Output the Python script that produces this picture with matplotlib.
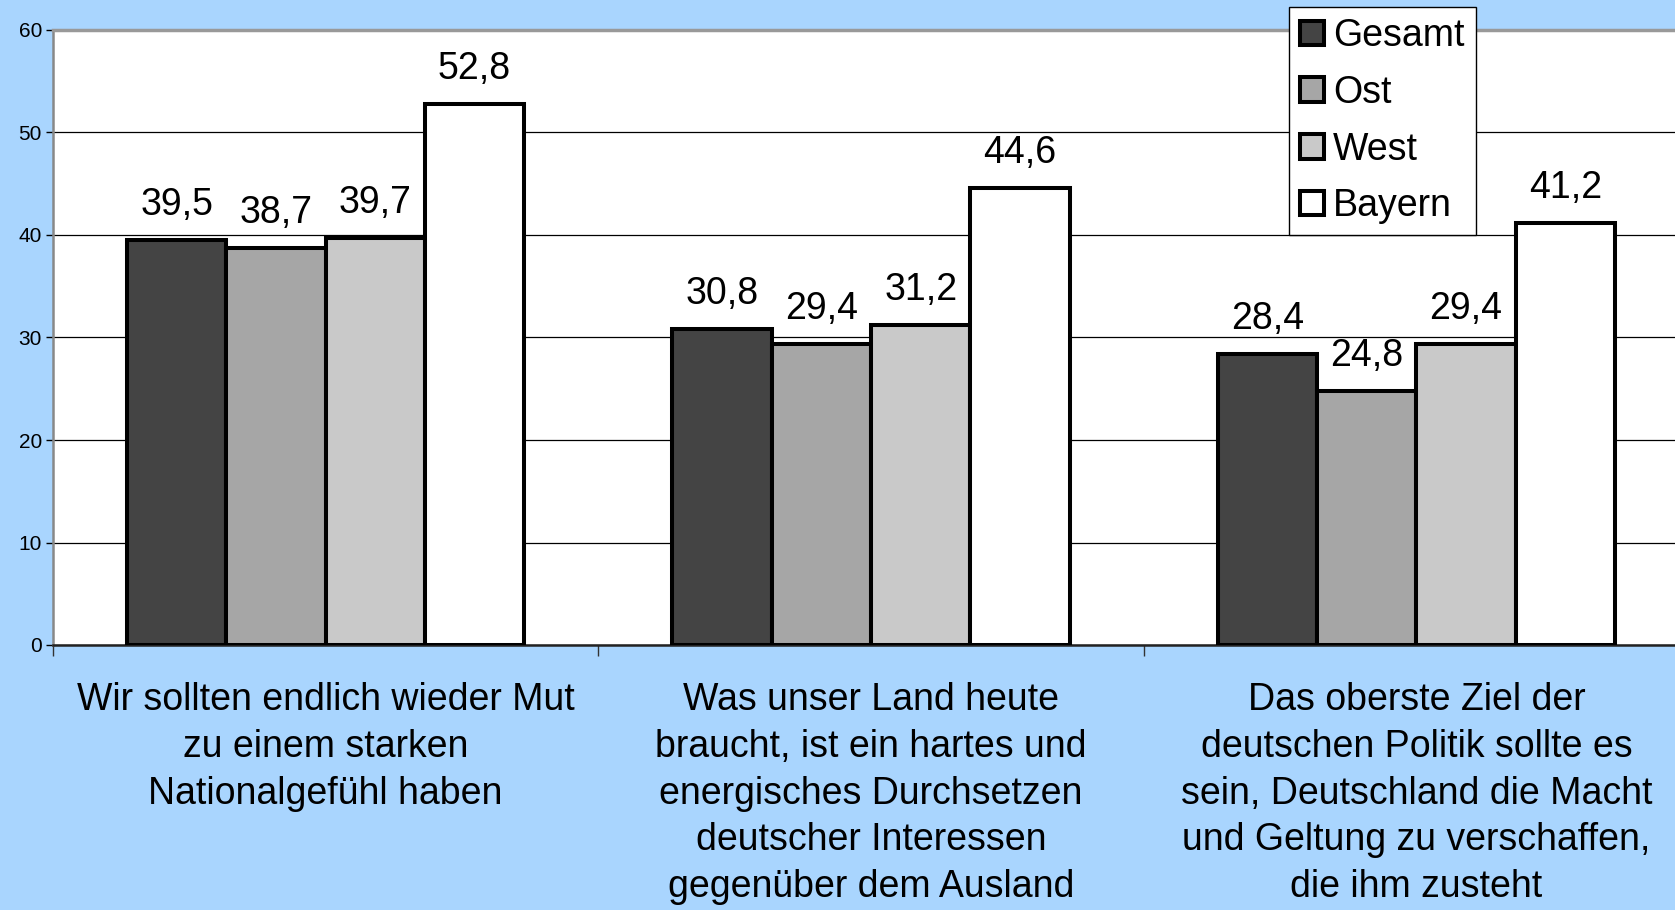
import matplotlib.pyplot as plt
import numpy as np

# Daten
kategorien = ["Wir sollten endlich wieder Mut\nzu einem starken\nNationalgefühl haben",
              "Was unser Land heute\nbraucht, ist ein hartes und\nenergisches Durchsetzen\ndeutscher Interessen\ngegenüber dem Ausland",
              "Das oberste Ziel der\ndeutschen Politik sollte es\nsein, Deutschland die Macht\nund Geltung zu verschaffen,\ndie ihm zusteht"]
gesamt = [39.5, 30.8, 28.4]
ost = [38.7, 29.4, 24.8]
west = [39.7, 31.2, 29.4]
bayern = [52.8, 44.6, 41.2]
serien = ["Gesamt", "Ost", "West", "Bayern"]
farben = ["#444444", "#a6a6a6", "#c9c9c9", "#ffffff"]

plt.rcParams['font.family'] = ['Liberation Sans', 'DejaVu Sans']

bg = "#a9d5fe"
fig = plt.figure(figsize=(16.75, 9.1), dpi=100, facecolor=bg)
W, H = 1675, 910
ax = fig.add_axes([53 / W, (H - 645) / H, 1636 / W, (645 - 30) / H])
ax.set_facecolor("white")

x = np.arange(len(kategorien))
breite = 0.182
werte = [gesamt, ost, west, bayern]
for i, (name, vals, col) in enumerate(zip(serien, werte, farben)):
    pos = x + (i - 1.5) * breite
    ax.bar(pos, vals, breite, color=col, edgecolor="black", linewidth=2.9, label=name, zorder=3)
    for px, v in zip(pos, vals):
        ax.annotate(("%.1f" % v).replace(".", ","), (px, v), xytext=(0, 18),
                    textcoords="offset points", ha="center", va="baseline", fontsize=27)

ax.set_xlim(-0.5, 2.5)
ax.set_ylim(0, 60)
ax.set_yticks(range(0, 61, 10))
ax.tick_params(axis="y", labelsize=15, length=5, width=1, pad=3, color="black")
ax.yaxis.grid(True, color="black", linewidth=0.9, zorder=0)
ax.set_axisbelow(True)

# Trennstriche zwischen den Kategorien und Beschriftungen
ax.set_xticks([-0.5, 0.5, 1.5, 2.5])
ax.set_xticklabels([])
ax.tick_params(axis="x", which="major", length=8, width=1, color="#333333")
ax.set_xticks(x, minor=True)
ax.set_xticklabels(kategorien, minor=True, fontsize=27, linespacing=1.38)
ax.tick_params(axis="x", which="minor", length=0, pad=27)

ax.spines["top"].set_color("#999999")
ax.spines["top"].set_linewidth(2.5)
ax.spines["left"].set_color("#888888")
ax.spines["left"].set_linewidth(1.8)
ax.spines["bottom"].set_color("#222222")
ax.spines["bottom"].set_linewidth(1.8)
ax.spines["right"].set_visible(False)

leg = fig.legend(loc="upper left", bbox_to_anchor=(1289 / W, 1 - 7 / H), fontsize=27,
                 frameon=True, fancybox=False, framealpha=1, edgecolor="black",
                 handlelength=0.63, handleheight=0.63, handletextpad=0.25,
                 labelspacing=0.55, borderpad=0.3, borderaxespad=0)
leg.get_frame().set_linewidth(1)

fig.savefig("out.png", dpi=100, facecolor=bg)
